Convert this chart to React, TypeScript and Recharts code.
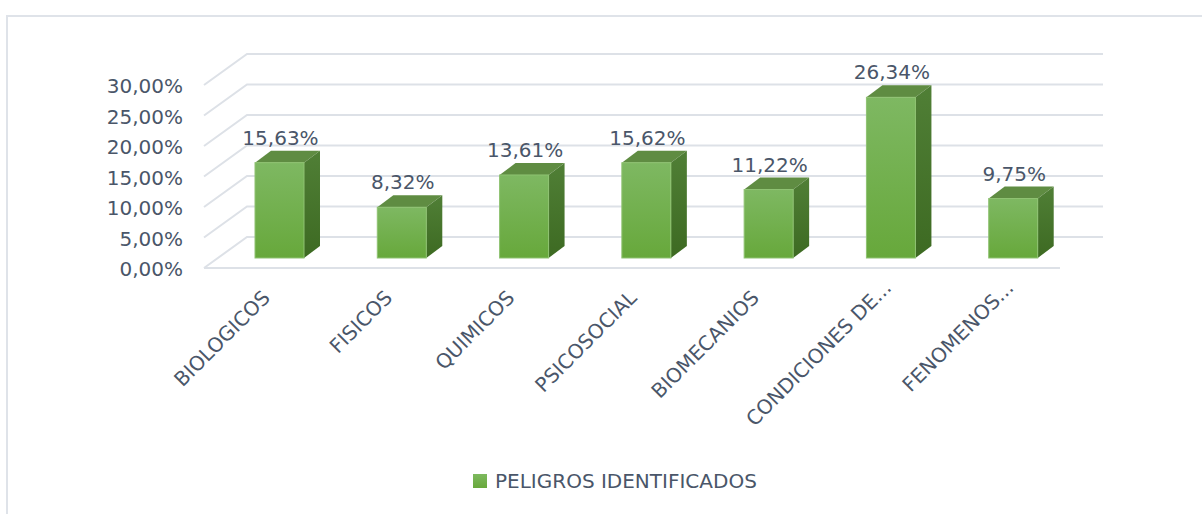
import React from 'react';
import { BarChart, Bar, XAxis, YAxis, CartesianGrid, Legend, LabelList } from 'recharts';

const categories = [
  'BIOLOGICOS',
  'FISICOS',
  'QUIMICOS',
  'PSICOSOCIAL',
  'BIOMECANIOS',
  'CONDICIONES DE...',
  'FENOMENOS...',
];
const peligros = [15.63, 8.32, 13.61, 15.62, 11.22, 26.34, 9.75];
const yTicks = [0, 5, 10, 15, 20, 25, 30];
const seriesName = 'PELIGROS IDENTIFICADOS';

const data = categories.map((name, i) => ({ name, value: peligros[i] }));

const TEXT = '#4a5669';
const FONT = '"DejaVu Sans", sans-serif';
const GRID = '#dde1e7';
// fake 3d: back wall offset and bar position inside the depth
const WALL_DX = 43;
const WALL_DY = 31;
const BAR_DX = 14;
const BAR_DY = 10;
const DEPTH_X = 16;
const DEPTH_Y = 12;

const pct = (v: number) => v.toFixed(2).replace('.', ',') + '%';

function Bar3D(props: any) {
  const { x, y, width, height } = props;
  if (!height || height <= 0) return null;
  const fx = x + BAR_DX;
  const fy = y - BAR_DY;
  const w = width;
  return (
    <g>
      <polygon
        points={`${fx},${fy} ${fx + DEPTH_X},${fy - DEPTH_Y} ${fx + w + DEPTH_X},${fy - DEPTH_Y} ${fx + w},${fy}`}
        fill="#5f8c42"
      />
      <polygon
        points={`${fx + w},${fy} ${fx + w + DEPTH_X},${fy - DEPTH_Y} ${fx + w + DEPTH_X},${fy + height - DEPTH_Y} ${fx + w},${fy + height}`}
        fill="url(#sideFace)"
      />
      <rect x={fx} y={fy} width={w} height={height} fill="url(#frontFace)" stroke="#8fc272" strokeWidth={1} />
    </g>
  );
}

const gridLine = (p: any) => {
  const { x1, x2, y1 } = p;
  return (
    <path
      key={p.key ?? `g-${y1}`}
      d={`M${x1},${y1} L${x1 + WALL_DX},${y1 - WALL_DY} L${x2 + WALL_DX},${y1 - WALL_DY}`}
      stroke={GRID}
      strokeWidth={2}
      fill="none"
    />
  );
};

const YTick = (p: any) => (
  <text x={p.x} y={p.y} dy={8} textAnchor="end" fill={TEXT} fontSize={20} fontFamily={FONT}>
    {pct(p.payload.value)}
  </text>
);

const XTick = (p: any) => {
  const label = String(p.payload.value);
  // excel pushes truncated labels a bit further along the baseline
  const cut = label.endsWith('...') ? 10 : 0;
  const tx = p.x + 6 + cut;
  const ty = p.y + 31 - cut;
  return (
    <text
      x={tx}
      y={ty}
      textAnchor="end"
      transform={`rotate(-45 ${tx} ${ty})`}
      fill={TEXT}
      fontSize={20}
      fontFamily={FONT}
    >
      {label}
    </text>
  );
};

const ValueLabel = (p: any) => (
  <text
    x={p.x + BAR_DX + p.width / 2 + 1}
    y={p.y - 28}
    textAnchor="middle"
    fill={TEXT}
    fontSize={20}
    fontFamily={FONT}
  >
    {pct(Number(p.value))}
  </text>
);

const LegendContent = (p: any) => (
  <div style={{ display: 'flex', alignItems: 'center', fontFamily: FONT, fontSize: 20, color: TEXT, lineHeight: '26px' }}>
    <span
      style={{
        display: 'inline-block',
        width: 14,
        height: 14,
        marginRight: 8,
        background: 'linear-gradient(#7db95f, #68a83c)',
      }}
    />
    {p.payload && p.payload[0] ? p.payload[0].value : seriesName}
  </div>
);

export default function App() {
  return (
    <div style={{ position: 'absolute', left: 0, top: 0, width: 1202, height: 514, background: '#fff' }}>
      <div
        style={{
          position: 'absolute',
          left: 6,
          top: 15,
          width: 1196,
          height: 499,
          borderLeft: '2px solid #dfe3e9',
          borderTop: '2px solid #dfe3e9',
        }}
      />
      <BarChart width={1202} height={514} data={data} margin={{ top: 85, right: 142, bottom: 126, left: 104 }}>
        <defs>
          <linearGradient id="frontFace" x1="0" y1="0" x2="0" y2="1">
            <stop offset="0%" stopColor="#7eb862" />
            <stop offset="100%" stopColor="#67a83b" />
          </linearGradient>
          <linearGradient id="sideFace" x1="0" y1="0" x2="0" y2="1">
            <stop offset="0%" stopColor="#507f36" />
            <stop offset="100%" stopColor="#3d6a22" />
          </linearGradient>
        </defs>
        <CartesianGrid horizontal={gridLine} vertical={false} />
        <XAxis
          dataKey="name"
          height={120}
          interval={0}
          tickLine={false}
          tickSize={0}
          tickMargin={0}
          axisLine={{ stroke: GRID, strokeWidth: 2 }}
          tick={<XTick />}
        />
        <YAxis
          width={100}
          domain={[0, 30]}
          ticks={yTicks}
          tickLine={false}
          axisLine={false}
          tickSize={0}
          tickMargin={21}
          tick={<YTick />}
        />
        <Legend
          verticalAlign="middle"
          align="center"
          wrapperStyle={{ top: 468, left: 473, width: 400 }}
          content={<LegendContent />}
        />
        <Bar dataKey="value" name={seriesName} barSize={49} shape={<Bar3D />} isAnimationActive={false}>
          <LabelList dataKey="value" content={<ValueLabel />} />
        </Bar>
      </BarChart>
    </div>
  );
}
